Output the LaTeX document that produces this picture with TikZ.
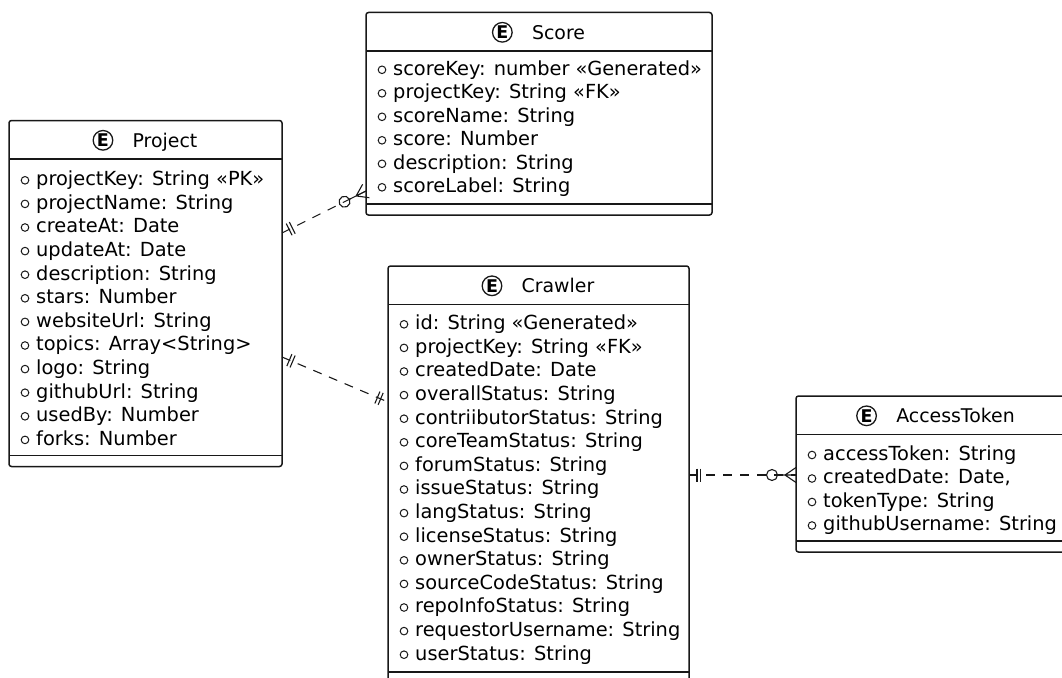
\documentclass[tikz,border=0pt]{standalone}
\usepackage{fontspec}
\setmainfont{DejaVu Sans}
\usetikzlibrary{calc,decorations.markings}
\definecolor{ink}{HTML}{181818}

\tikzset{
  ebox/.style={draw=ink, line width=1.5pt, rounded corners=2.5pt, fill=white,
    inner sep=0pt, outer sep=0pt},
  esep/.style={draw=ink, line width=1.5pt},
  etitle/.style={inner sep=0pt, font=\fontsize{18.9}{22}\selectfont},
  eletter/.style={inner sep=0pt, font=\fontsize{17.5}{17.5}\selectfont\bfseries},
  emark/.style={draw=ink, line width=1.3pt},
  amark/.style={draw=ink, line width=1pt},
  attr/.style={inner sep=0pt, font=\fontsize{19.4}{23}\selectfont},
  link/.style={draw=ink, line width=1.1pt, dash pattern=on 9pt off 8pt},
  tick/.style={draw=ink, solid, line width=1.1pt},
  % exactly-one mark at the start of a relation line
  onestart/.style={postaction={decorate, decoration={markings,
      mark=at position 8pt with {\draw[tick] (0,-6.5) -- (0,6.5);},
      mark=at position 11.5pt with {\draw[tick] (0,-6.5) -- (0,6.5);}}}},
  % exactly-one mark at the end of a relation line
  oneend/.style={postaction={decorate, decoration={markings,
      mark=at position -8pt with {\draw[tick] (0,-6.5) -- (0,6.5);},
      mark=at position -11.5pt with {\draw[tick] (0,-6.5) -- (0,6.5);}}}},
  % zero-or-many mark at the end of a relation line
  manyend/.style={postaction={decorate, decoration={markings,
      mark=at position -0.01pt with {
        \draw[tick] (-24,0) circle (5.5);
        \draw[tick] (-18.5,0) -- (0,0) (-11,0) -- (0,7.5) (-11,0) -- (0,-7.5);}}}},
}

% #1 name, #2 left, #3 top, #4 width, #5 height, #6 title,
% #7 first row offset, #8 row pitch, #9 attributes
\newcommand\erentity[9]{%
  \node[ebox, anchor=north west, minimum width=#4pt, minimum height=#5pt] (#1) at (#2,#3) {};
  \draw[esep] ($(#1.north west)+(0,38.5)$) -- ($(#1.north east)+(0,38.5)$);
  \draw[esep] ($(#1.south west)+(0,-11)$) -- ($(#1.south east)+(0,-11)$);
  \node[etitle, anchor=base] (#1-title) at ($(#1.north)+(0,26.8)$) {\hspace*{39pt}#6};
  \draw[emark] ($(#1-title.base west)+(9.5,-7)$) circle (9.8);
  \node[eletter] (#1-e) at ($(#1-title.base west)+(9.5,-7)$) {E};
  \foreach \t [count=\i from 0] in {#9} {
    \draw[amark] ($(#1.north west)+(16,#7+#8*\i)$) circle (3.8);
    \node[attr, anchor=base west] (#1-a\i) at ($(#1.north west)+(27,#7+#8*\i+5.4)$) {\t};
  }%
}

\begin{document}
\begin{tikzpicture}[x=1pt, y=-1pt]
\useasboundingbox (0,0) rectangle (1062,677);
\clip (0,0) rectangle (1062,677);

\erentity{project}{9}{120.5}{273}{346}{Project}{59.8}{23.6}{%
  projectKey: String «PK»,
  projectName: String,
  createAt: Date,
  updateAt: Date,
  description: String,
  stars: Number,
  websiteUrl: String,
  topics: Array<String>,
  logo: String,
  githubUrl: String,
  usedBy: Number,
  forks: Number}

\erentity{score}{366}{12.5}{346}{202.5}{Score}{57.3}{23.5}{%
  scoreKey: number «Generated»,
  projectKey: String «FK»,
  scoreName: String,
  score: Number,
  description: String,
  scoreLabel: String}

\erentity{crawler}{388}{266}{301}{417}{Crawler}{58.3}{23.6}{%
  id: String «Generated»,
  projectKey: String «FK»,
  createdDate: Date,
  overallStatus: String,
  contriibutorStatus: String,
  coreTeamStatus: String,
  forumStatus: String,
  issueStatus: String,
  langStatus: String,
  licenseStatus: String,
  ownerStatus: String,
  sourceCodeStatus: String,
  repoInfoStatus: String,
  requestorUsername: String,
  userStatus: String}

\erentity{token}{796}{396}{280}{156}{AccessToken}{59}{23.5}{%
  accessToken: String,
  {createdDate: Date,},
  tokenType: String,
  githubUsername: String}

% relation end points on the entity borders
\path (project.north east) ++(0,112.5) coordinate (ps-a);
\path (score.north west)   ++(0,178.5) coordinate (ps-b);
\path (project.north east) ++(0,236.5) coordinate (pc-a);
\path (crawler.north west) ++(0,136)   coordinate (pc-b);
\path (crawler.north east) ++(0,209)   coordinate (ct-a);
\path (token.north west)   ++(0,79)    coordinate (ct-b);

\draw[link, onestart, manyend] (ps-a) -- (ps-b);
\draw[link, onestart, oneend]  (pc-a) -- (pc-b);
\draw[link, onestart, manyend] (ct-a) -- (ct-b);
\end{tikzpicture}
\end{document}
